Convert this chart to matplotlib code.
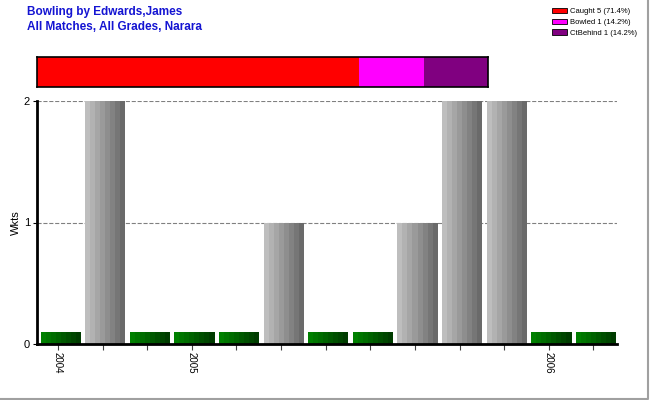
import matplotlib
matplotlib.use('Agg')
import matplotlib.pyplot as plt
import numpy as np
from matplotlib.colors import to_rgb
from matplotlib.patches import Patch
from matplotlib.lines import Line2D

plt.rcParams['font.family'] = ['Liberation Sans', 'DejaVu Sans']

# wickets per innings, in order
wkts = [0, 2, 0, 0, 0, 1, 0, 0, 1, 2, 2, 0, 0]
year_labels = {0: '2004', 3: '2005', 11: '2006'}
dismissals = ['Caught', 'Bowled', 'CtBehind']
dis_counts = [5, 1, 1]
dis_colors = ['#ff0000', '#ff00ff', '#800080']

zero_h = 0.1   # stub drawn for innings without a wicket
nstripe = 8
bw = 0.9

def blend(c1, c2, t):
    a, b = np.array(to_rgb(c1)), np.array(to_rgb(c2))
    return a + (b - a) * t

fig = plt.figure(figsize=(6.5, 4), dpi=100)
fig.patch.set_facecolor('white')
# window edge, right and bottom
fig.lines.append(Line2D([0, 647.5/650, 647.5/650], [1.5/400, 1.5/400, 1],
                        transform=fig.transFigure, color='#a0a0a0', lw=1.5))

ax = fig.add_axes([37/650, 56/400, 580/650, 243/400])
for i, w in enumerate(wkts):
    if w == 0:
        h, c1, c2 = zero_h, '#008000', '#003c00'
    else:
        h, c1, c2 = w, '#bebebe', '#6a6a6a'
    sw = bw / nstripe
    x0 = i - bw/2 + 0.03
    for k in range(nstripe):
        ax.bar(x0 + (k + 0.5) * sw, h, width=sw * 1.02,
               color=blend(c1, c2, k / (nstripe - 1)), lw=0)

ax.set_xlim(-0.5, len(wkts) - 0.5)
ax.set_ylim(0, 2)
ax.set_yticks([0, 1, 2])
ax.yaxis.grid(True, ls='--', color='#808080', lw=0.8)
ax.set_axisbelow(True)
ax.set_xticks(np.arange(len(wkts)) - 0.03)
ax.set_xticklabels([year_labels.get(i, '') for i in range(len(wkts))],
                   rotation=270, fontsize=7, va='top')
ax.tick_params(axis='x', length=4, color='#404040', pad=2)
ax.tick_params(axis='y', length=3, labelsize=8, pad=2)
for s in ['top', 'right']:
    ax.spines[s].set_visible(False)
ax.spines['left'].set_linewidth(2)
ax.spines['bottom'].set_linewidth(2)
ax.set_ylabel('Wkts', fontsize=8, labelpad=2)

# dismissal breakdown bar
bx = fig.add_axes([37/650, 313/400, 451/650, 30/400])
total = sum(dis_counts)
left = 0
for n, c in zip(dis_counts, dis_colors):
    bx.barh(0, n / total, left=left, height=1, color=c, lw=0)
    left += n / total
bx.set_xlim(0, 1)
bx.set_ylim(-0.5, 0.5)
bx.set_xticks([])
bx.set_yticks([])
for s in bx.spines.values():
    s.set_linewidth(1.2)

handles = [Patch(facecolor=c, edgecolor='black', lw=0.6,
                 label=f'{d} {n} ({int(n / total * 1000) / 10:.1f}%)')
           for d, n, c in zip(dismissals, dis_counts, dis_colors)]
fig.legend(handles=handles, loc='upper left', bbox_to_anchor=(549/650, 1 - 5/400),
           frameon=False, fontsize=5.5, handlelength=2.0, handleheight=0.7,
           handletextpad=0.4, labelspacing=0.42, borderaxespad=0)

fig.text(27/650, 1 - 12/400, 'Bowling by Edwards,James', color='#1414d2',
         fontsize=8.5, fontweight='bold', va='center')
fig.text(27/650, 1 - 27/400, 'All Matches, All Grades, Narara', color='#1414d2',
         fontsize=8.5, fontweight='bold', va='center')

fig.savefig('out.png', dpi=100, facecolor='white')
